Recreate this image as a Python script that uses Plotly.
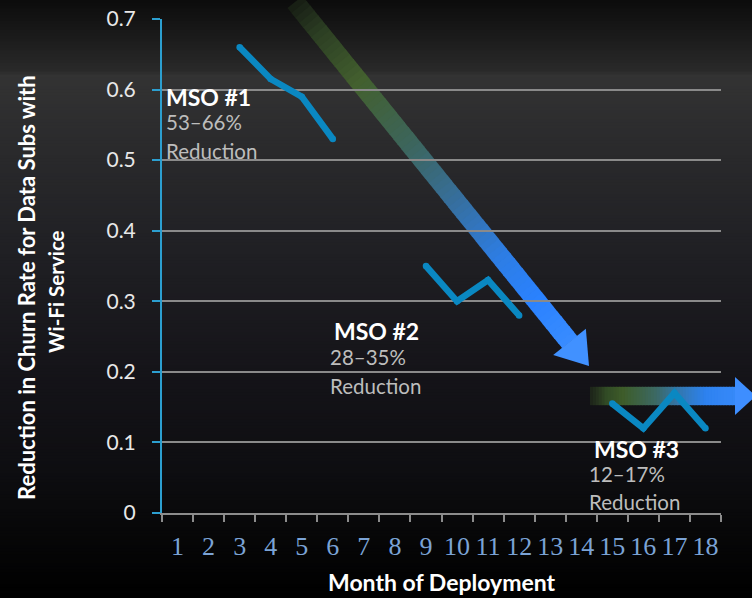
import math
import plotly.graph_objects as go

# ---- data -------------------------------------------------------------
months = [str(m) for m in range(1, 19)]

mso1_months = ["3", "4", "5", "6"]
mso1_values = [0.66, 0.615, 0.59, 0.53]

mso2_months = ["9", "10", "11", "12"]
mso2_values = [0.35, 0.30, 0.33, 0.28]

mso3_months = ["15", "16", "17", "18"]
mso3_values = [0.155, 0.12, 0.17, 0.12]

y_ticks = [0, 0.1, 0.2, 0.3, 0.4, 0.5, 0.6, 0.7]
y_tick_labels = ["0", "0.1", "0.2", "0.3", "0.4", "0.5", "0.6", "0.7"]

# ---- page geometry (pixels) -------------------------------------------
W, H = 752, 598
PL, PR, PT, PB = 162, 721, 19, 513


def paper_x(px):
    return (px - PL) / (PR - PL)


def paper_y(py):
    return (PB - py) / (PB - PT)


def lerp(a, b, t):
    return a + (b - a) * t


def interp_stops(stops, t):
    if t <= stops[0][0]:
        return stops[0][1]
    for (t0, c0), (t1, c1) in zip(stops, stops[1:]):
        if t <= t1:
            f = (t - t0) / (t1 - t0) if t1 > t0 else 0
            return tuple(lerp(a, b, f) for a, b in zip(c0, c1))
    return stops[-1][1]


# vertical background shading
bg_stops = [
    (0, (11, 11, 11)),
    (72, (42, 42, 42)),
    (75, (51, 51, 51)),
    (150, (42, 42, 44)),
    (250, (32, 32, 36)),
    (370, (21, 20, 25)),
    (470, (14, 14, 17)),
    (540, (6, 6, 7)),
    (598, (0, 0, 0)),
]


def bg_at(py):
    return interp_stops(bg_stops, py)


def rgb(c):
    return "rgb(%d,%d,%d)" % tuple(int(round(v)) for v in c)


shapes = []

step = 3
for y0 in range(0, H, step):
    c = bg_at(y0 + step / 2)
    shapes.append(dict(
        type="rect", xref="paper", yref="paper", layer="below",
        x0=paper_x(-2), x1=paper_x(W + 2),
        y0=paper_y(y0 - 0.6), y1=paper_y(y0 + step + 0.6),
        fillcolor=rgb(c), line=dict(width=0),
    ))


def blend(rgba, py):
    r, g, b, a = rgba
    bg = bg_at(py)
    return (lerp(bg[0], r, a), lerp(bg[1], g, a), lerp(bg[2], b, a))


def poly_path(pts):
    s = "M %f %f" % (paper_x(pts[0][0]), paper_y(pts[0][1]))
    for x, y in pts[1:]:
        s += " L %f %f" % (paper_x(x), paper_y(y))
    return s + " Z"


def gradient_arrow(start, tip, shaft_hw, head_len, head_hw, stops, n=70):
    sx, sy = start
    tx, ty = tip
    L = math.hypot(tx - sx, ty - sy)
    ux, uy = (tx - sx) / L, (ty - sy) / L
    nx, ny = -uy, ux
    shaft_len = L - head_len
    out = []
    for i in range(n):
        d0 = shaft_len * i / n
        d1 = shaft_len * (i + 1) / n + 0.8
        if d1 > shaft_len + 0.5:
            d1 = shaft_len + 0.5
        ax, ay = sx + ux * d0, sy + uy * d0
        bx, by = sx + ux * d1, sy + uy * d1
        pts = [
            (ax + nx * shaft_hw, ay + ny * shaft_hw),
            (bx + nx * shaft_hw, by + ny * shaft_hw),
            (bx - nx * shaft_hw, by - ny * shaft_hw),
            (ax - nx * shaft_hw, ay - ny * shaft_hw),
        ]
        tm = ((d0 + d1) / 2) / L
        col = blend(interp_stops(stops, tm), (ay + by) / 2)
        out.append(dict(type="path", xref="paper", yref="paper", layer="below",
                        path=poly_path(pts), fillcolor=rgb(col), line=dict(width=0)))
    bx, by = sx + ux * shaft_len, sy + uy * shaft_len
    head = [(bx + nx * head_hw, by + ny * head_hw), (tx, ty), (bx - nx * head_hw, by - ny * head_hw)]
    col = blend(interp_stops(stops, 1.0), by)
    out.append(dict(type="path", xref="paper", yref="paper", layer="below",
                    path=poly_path(head), fillcolor=rgb(col), line=dict(width=0)))
    return out


down_stops = [
    (0.0, (45, 65, 35, 0.30)),
    (0.08, (55, 85, 40, 0.60)),
    (0.22, (70, 104, 46, 0.85)),
    (0.40, (62, 108, 100, 0.90)),
    (0.55, (55, 115, 165, 0.95)),
    (0.70, (45, 125, 228, 1.0)),
    (0.82, (42, 130, 255, 1.0)),
    (1.0, (65, 145, 255, 1.0)),
]
shapes += gradient_arrow((295, 2), (589, 366), 9.7, 31, 21, down_stops)

flat_stops = [
    (0.0, (40, 55, 28, 0.45)),
    (0.10, (55, 85, 40, 0.85)),
    (0.20, (64, 96, 42, 0.95)),
    (0.40, (60, 105, 100, 1.0)),
    (0.55, (50, 120, 180, 1.0)),
    (0.70, (45, 130, 240, 1.0)),
    (1.0, (62, 142, 255, 1.0)),
]
shapes += gradient_arrow((590, 396), (756, 396), 9.2, 21, 19, flat_stops, n=50)

# ---- traces -----------------------------------------------------------
line_color = "#0a88c2"
fig = go.Figure()
for xs, ys in [(mso1_months, mso1_values), (mso2_months, mso2_values), (mso3_months, mso3_values)]:
    fig.add_trace(go.Scatter(
        x=xs, y=ys, mode="lines+markers",
        line=dict(color=line_color, width=6.5),
        marker=dict(color=line_color, size=6.5),
        hoverinfo="skip", showlegend=False,
    ))

# ---- labels -----------------------------------------------------------
sans = "Lato"
annotations = []


def label(px, py, text, size, color, bold=False):
    annotations.append(dict(
        xref="paper", yref="paper", x=paper_x(px), y=paper_y(py),
        xanchor="left", yanchor="middle", showarrow=False,
        text="<b>%s</b>" % text if bold else text,
        font=dict(family=sans, size=size, color=color),
    ))


for (x_title, y_title, x_sub, y_pct, y_red, title, pct) in [
    (164, 97, 164, 122, 151, "MSO #1", "53–66%"),
    (332, 331, 328, 357, 386, "MSO #2", "28–35%"),
    (592, 449, 587, 474, 502, "MSO #3", "12–17%"),
]:
    label(x_title, y_title, title, 23, "white", bold=True)
    label(x_sub, y_pct, pct, 20.5, "#bdbdbd")
    label(x_sub, y_red, "Reduction", 20.5, "#bdbdbd")

for px, py, text, size in [(26, 288, "Reduction in Churn Rate for Data Subs with", 22),
                           (56, 292, "Wi-Fi Service", 20.5)]:
    annotations.append(dict(
        xref="paper", yref="paper", x=paper_x(px), y=paper_y(py),
        xanchor="center", yanchor="middle", showarrow=False, textangle=-90,
        text="<b>%s</b>" % text, font=dict(family=sans, size=size, color="white"),
    ))

annotations.append(dict(
    xref="paper", yref="paper", x=paper_x(442), y=paper_y(582),
    xanchor="center", yanchor="middle", showarrow=False,
    text="<b>Month of Deployment</b>", font=dict(family=sans, size=23, color="white"),
))

fig.update_layout(
    width=W, height=H,
    margin=dict(l=PL, r=W - PR, t=PT, b=H - PB, pad=0, autoexpand=False),
    paper_bgcolor="black", plot_bgcolor="rgba(0,0,0,0)",
    shapes=shapes, annotations=annotations, showlegend=False,
    xaxis=dict(
        type="category", categoryorder="array", categoryarray=months,
        range=[-0.5, 17.5], tickson="boundaries", ticks="outside",
        ticklen=7, tickwidth=1.5, tickcolor="#8c8c8c", tickangle=0,
        showline=True, linecolor="#8c8c8c", linewidth=2, automargin=False,
        showgrid=False, zeroline=False, fixedrange=True, ticklabelstandoff=9,
        tickfont=dict(family="Liberation Serif", size=26, color="#7ba3d6"),
    ),
    yaxis=dict(
        range=[0, 0.7], tickvals=y_ticks, ticktext=y_tick_labels,
        ticks="outside", ticklen=8, tickwidth=1.5, tickcolor="#2c9fd0",
        showline=True, linecolor="#2c9fd0", linewidth=2, automargin=False,
        showgrid=True, gridcolor="#8a8a8a", gridwidth=1.5,
        zeroline=False, fixedrange=True, ticklabelstandoff=12,
        tickfont=dict(family=sans, size=21, color="#e8e8e8"),
    ),
)

fig.write_html("out.html")
